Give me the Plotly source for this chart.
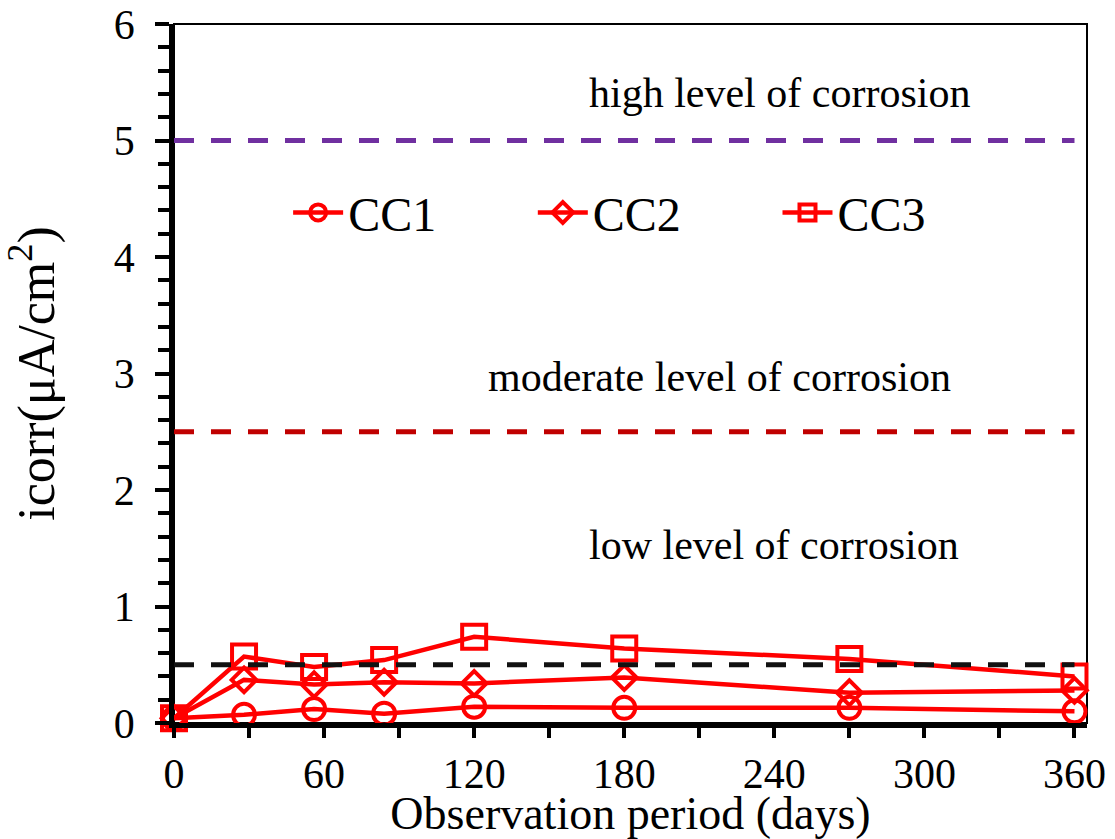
import plotly.graph_objects as go

# ---- data ----
days = [0, 28, 56, 84, 120, 180, 270, 360]
cc1 = [0.04, 0.07, 0.12, 0.08, 0.14, 0.13, 0.13, 0.10]
cc2 = [0.04, 0.37, 0.33, 0.35, 0.34, 0.39, 0.26, 0.28]
cc3 = [0.04, 0.57, 0.48, 0.54, 0.74, 0.64, 0.55, 0.40]
series_names = ["CC1", "CC2", "CC3"]

threshold_values = [5.0, 2.5, 0.5]
threshold_colors = ["#7030A0", "#C00000", "#111111"]

level_labels = ["high level of corrosion", "moderate level of corrosion", "low level of corrosion"]
level_x = [242, 218, 240]
level_y = [5.41, 2.97, 1.53]

x_ticks = [0, 60, 120, 180, 240, 300, 360]
y_ticks = [0, 1, 2, 3, 4, 5, 6]

FONT = "Liberation Serif, Times New Roman, serif"
RED = "#FF0000"

fig = go.Figure()

symbols = ["circle-open", "diamond-open", "square-open"]
sizes = [22, 19, 24]
legend_ids = ["legend", "legend2", "legend3"]
legend_x = [0.125, 0.393, 0.661]
for name, vals, sym, sz, lg in zip(series_names, [cc1, cc2, cc3], symbols, sizes, legend_ids):
    fig.add_trace(go.Scatter(
        x=days, y=vals, name=name, mode="lines+markers",
        line=dict(color=RED, width=4.5),
        marker=dict(symbol=sym, size=sz, color=RED, line=dict(color=RED, width=4)),
        cliponaxis=False, legend=lg,
    ))

for v, c in zip(threshold_values, threshold_colors):
    fig.add_shape(type="line", xref="x", yref="y", x0=0, x1=360, y0=v, y1=v,
                  line=dict(color=c, width=5, dash="20px,17px"), layer="above")

for t, x, y in zip(level_labels, level_x, level_y):
    fig.add_annotation(x=x, y=y, xref="x", yref="y", text=t, showarrow=False,
                       font=dict(family=FONT, size=42, color="black"))

# thin frame (top/right)
fig.add_shape(type="rect", xref="paper", yref="paper", x0=0, x1=1, y0=0, y1=1,
              line=dict(color="black", width=2), layer="below")

legend_common = dict(orientation="h", y=0.73, xanchor="left", yanchor="middle",
                     font=dict(family=FONT, size=48, color="black"),
                     bgcolor="rgba(0,0,0,0)", borderwidth=0, itemwidth=50)

fig.update_layout(
    width=1115, height=839,
    margin=dict(l=174, r=28, t=24, b=116, autoexpand=False),
    paper_bgcolor="white", plot_bgcolor="white",
    font=dict(family=FONT, size=42, color="black"),
    showlegend=True,
    legend=dict(x=legend_x[0], **legend_common),
    legend2=dict(x=legend_x[1], **legend_common),
    legend3=dict(x=legend_x[2], **legend_common),
)

fig.update_xaxes(
    range=[0, 365], tickvals=x_ticks, ticktext=[str(v) for v in x_ticks],
    showline=True, linecolor="black", linewidth=4.5, showgrid=False, zeroline=False,
    ticks="outside", ticklen=10, tickwidth=4, tickcolor="black", automargin=False,
    minor=dict(dtick=30, tick0=0, ticks="outside", ticklen=10, tickwidth=4, tickcolor="black", showgrid=False),
    tickfont=dict(family=FONT, size=42),
    title=dict(text="Observation period (days)", font=dict(family=FONT, size=46), standoff=0),
)
fig.update_yaxes(
    range=[0, 6], tickvals=y_ticks, ticktext=[str(v) for v in y_ticks],
    showline=True, linecolor="black", linewidth=4.5, showgrid=False, zeroline=False,
    ticks="outside", ticklen=14, tickwidth=4, tickcolor="black", automargin=False,
    ticklabelstandoff=12,
    minor=dict(dtick=0.2, tick0=0, ticks="outside", ticklen=11, tickwidth=4, tickcolor="black", showgrid=False),
    tickfont=dict(family=FONT, size=42),
    title=dict(text="icorr(μA/cm<sup>2</sup>)", font=dict(family=FONT, size=52), standoff=48),
)

fig.write_html("out.html")
